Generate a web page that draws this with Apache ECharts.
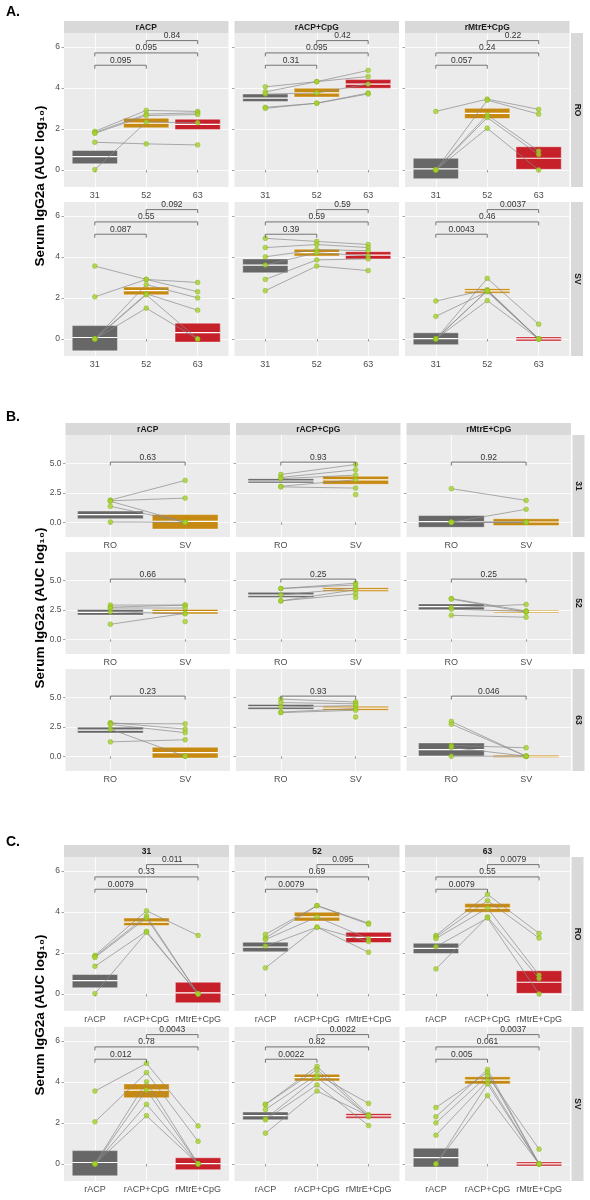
<!DOCTYPE html>
<html><head><meta charset="utf-8">
<script src="https://cdn.jsdelivr.net/npm/echarts@6.0.0/dist/echarts.min.js"></script>
<style>html,body{margin:0;padding:0;background:#fff}#main{width:590px;height:1200px}</style>
</head><body><div id="main"></div>
<script>
// ---------- categories ----------
const routes = ['RO', 'SV'];
const treatments = ['rACP', 'rACP+CpG', 'rMtrE+CpG'];
const days = ['31', '52', '63'];
const yTicksAC = [0, 2, 4, 6];
const yTicksB = [0, 2.5, 5];

// ---------- animal values (rows = animals, columns = day 31, 52, 63) ----------
const RO_rACP      = [[1.88,2.90,2.85],[1.82,2.72,2.78],[1.78,2.65,2.70],[1.35,1.27,1.22],[0.02,2.33,2.30]];
const RO_rACP_CpG  = [[4.05,4.30,4.85],[3.80,4.30,4.55],[3.70,3.75,4.18],[3.05,3.25,3.75],[3.00,3.25,3.70]];
const RO_rMtrE_CpG = [[2.85,3.45,2.95],[0.00,3.40,2.72],[0.00,2.68,0.92],[0.00,2.55,0.75],[0.00,2.03,0.00]];
const SV_rACP      = [[3.55,2.90,2.30],[2.05,2.90,2.75],[0.00,2.65,2.00],[0.00,2.20,1.40],[0.00,2.15,0.00],[0.00,1.50,0.00]];
const SV_rACP_CpG  = [[4.90,4.75,4.60],[4.45,4.60,4.45],[4.00,4.35,4.30],[3.60,4.20,4.05],[2.90,3.85,3.90],[2.35,3.55,3.33]];
const SV_rMtrE_CpG = [[1.85,2.40,0.00],[1.10,2.30,0.00],[0.00,2.95,0.72],[0.00,2.35,0.00],[0.00,1.87,0.00],[0.00,2.35,0.00]];

// ---------- box summaries [low, mid, high] for day 31, 52, 63 ----------
const RO_rACP_box      = [[0.30,0.65,0.95],[2.05,2.28,2.52],[1.97,2.22,2.47]];
const RO_rACP_CpG_box  = [[3.33,3.50,3.70],[3.55,3.75,3.98],[3.98,4.18,4.40]];
const RO_rMtrE_CpG_box = [[-0.43,0.05,0.57],[2.50,2.76,3.00],[0.03,0.57,1.13]];
const SV_rACP_box      = [[-0.58,0.07,0.65],[2.15,2.35,2.53],[-0.15,0.31,0.77]];
const SV_rACP_CpG_box  = [[3.22,3.60,3.90],[4.04,4.20,4.37],[3.90,4.08,4.25]];
const SV_rMtrE_CpG_box = [[-0.28,0.02,0.30],[2.23,2.34,2.45],[-0.10,0.00,0.10]];

// ---------- p-values ----------
// A: per route / treatment: [31 vs 52, 31 vs 63, 52 vs 63]
const pA_RO = [['0.095','0.095','0.84'],['0.31','0.095','0.42'],['0.057','0.24','0.22']];
const pA_SV = [['0.087','0.55','0.092'],['0.39','0.59','0.59'],['0.0043','0.46','0.0037']];
// B: per day / treatment: RO vs SV
const pB = [['0.63','0.93','0.92'],['0.66','0.25','0.25'],['0.23','0.93','0.046']];
// C: per route / day: [rACP vs rACP+CpG, rACP vs rMtrE+CpG, rACP+CpG vs rMtrE+CpG]
const pC_RO = [['0.0079','0.33','0.011'],['0.0079','0.69','0.095'],['0.0079','0.55','0.0079']];
const pC_SV = [['0.012','0.78','0.0043'],['0.0022','0.82','0.0022'],['0.005','0.061','0.0037']];

const subjects = {RO:[RO_rACP,RO_rACP_CpG,RO_rMtrE_CpG], SV:[SV_rACP,SV_rACP_CpG,SV_rMtrE_CpG]};
const boxes = {RO:[RO_rACP_box,RO_rACP_CpG_box,RO_rMtrE_CpG_box], SV:[SV_rACP_box,SV_rACP_CpG_box,SV_rMtrE_CpG_box]};
const pA = {RO:pA_RO, SV:pA_SV};
const pC = {RO:pC_RO, SV:pC_SV};

// ---------- styling / layout ----------
const FONT = '"Liberation Sans", Arial, Helvetica, sans-serif';
const GRAY = '#676767', ORANGE = '#c68a12', RED = '#c6202a';
const PANEL_BG = '#ebebeb', STRIP_BG = '#d9d9d9';
const LAY_A = {cols:[64,234.5,405], w:164.5, rows:[33,202], h:154, stripTop:21, yMin:-0.83, yMax:6.67};
const LAY_B = {cols:[65.5,236,406.5], w:164.5, rows:[435,552,669], h:102, stripTop:423, yMin:-1.25, yMax:7.4};
const LAY_C = {cols:[64,234.5,405], w:165, rows:[857,1027], h:154, stripTop:845, yMin:-0.83, yMax:6.67};
const STRIP_H = 12;

const grids = [], xAxes = [], yAxes = [], series = [], graphics = [];

function addPanel(cfg) {
  const idx = grids.length;
  grids.push({left:cfg.left, top:cfg.top, width:cfg.width, height:cfg.height, show:true,
    backgroundColor:PANEL_BG, borderWidth:0});
  const n = cfg.cats.length;
  const xs = cfg.cats.map((c, i) => i + 1);
  xAxes.push({gridIndex:idx, type:'value', min:0.4, max:n + 0.6,
    axisLine:{show:false},
    axisTick:{show:true, customValues:xs, length:2.5, lineStyle:{color:'#555', width:0.6}},
    axisLabel:{show:true, customValues:xs, formatter:v => cfg.cats[Math.round(v) - 1], fontSize:9,
      color:'#4d4d4d', margin:4, fontFamily:FONT},
    splitLine:{show:true, lineStyle:{color:'#ffffff', width:0.8}}});
  yAxes.push({gridIndex:idx, type:'value', min:cfg.yMin, max:cfg.yMax,
    axisLine:{show:false},
    axisTick:{show:true, customValues:cfg.yTicks, length:2.5, lineStyle:{color:'#666', width:0.6}},
    axisLabel:{show:cfg.showY, customValues:cfg.yTicks, formatter:cfg.yFmt, fontSize:8.5, color:'#4d4d4d',
      margin:4, fontFamily:FONT},
    splitLine:{show:true, lineStyle:{color:'#ffffff', width:0.8}}});
  const colors = cfg.colors;
  series.push({type:'custom', xAxisIndex:idx, yAxisIndex:idx, z:2, silent:true,
    data:cfg.boxes.map((b, i) => [i + 1, b[0], b[1], b[2]]),
    encode:{x:0, y:[1, 2, 3]},
    renderItem:(params, api) => {
      const x = api.value(0);
      const hw = api.size([0.44, 0])[0];
      const pt = api.coord([x, api.value(3)]);
      const pb = api.coord([x, api.value(1)]);
      const pm = api.coord([x, api.value(2)]);
      return {type:'group', children:[
        {type:'rect', shape:{x:pt[0] - hw, y:pt[1], width:2 * hw, height:pb[1] - pt[1]},
          style:{fill:colors[params.dataIndex], stroke:'rgba(255,255,255,0.7)', lineWidth:0.6}},
        {type:'line', shape:{x1:pt[0] - hw, y1:pm[1], x2:pt[0] + hw, y2:pm[1]},
          style:{stroke:'#ffffff', lineWidth:1.2}}
      ]};
    }});
  cfg.lines.forEach(line => {
    series.push({type:'line', xAxisIndex:idx, yAxisIndex:idx, z:3, silent:true,
      data:line.map((v, i) => [i + 1, v]), symbol:'none',
      lineStyle:{color:'#8a8a8a', width:0.7}});
  });
  series.push({type:'scatter', xAxisIndex:idx, yAxisIndex:idx, z:4, silent:true,
    data:cfg.points, symbolSize:4.8,
    itemStyle:{color:'#a6d22e', borderColor:'#86b21a', borderWidth:0.6}});
  const br = cfg.brackets;
  series.push({type:'custom', xAxisIndex:idx, yAxisIndex:idx, z:5, silent:true,
    data:br.map(b => [b[0], b[2]]),
    renderItem:(params, api) => {
      const b = br[params.dataIndex];
      const p1 = api.coord([b[0], b[2]]);
      const p2 = api.coord([b[1], b[2]]);
      return {type:'group', children:[
        {type:'polyline', shape:{points:[[p1[0], p1[1] + 3.5], [p1[0], p1[1]], [p2[0], p2[1]], [p2[0], p2[1] + 3.5]]},
          style:{stroke:'#555555', lineWidth:0.8, fill:null}},
        {type:'text', x:(p1[0] + p2[0]) / 2, y:p1[1] - 0.3,
          style:{text:b[3], fontSize:8.5, fill:'#333333', align:'center', verticalAlign:'bottom', fontFamily:FONT}}
      ]};
    }});
}

function topStrip(x, y, w, label) {
  graphics.push({type:'rect', shape:{x:x, y:y, width:w, height:STRIP_H}, style:{fill:STRIP_BG}, silent:true});
  graphics.push({type:'text', x:x + w / 2, y:y + STRIP_H / 2 + 0.5,
    style:{text:label, fontSize:8.5, fontWeight:'bold', fill:'#1a1a1a', align:'center', verticalAlign:'middle', fontFamily:FONT}});
}
function rightStrip(x, y, h, label) {
  graphics.push({type:'rect', shape:{x:x, y:y, width:STRIP_H, height:h}, style:{fill:STRIP_BG}, silent:true});
  graphics.push({type:'text', x:x + STRIP_H / 2, y:y + h / 2, rotation:-Math.PI / 2,
    style:{text:label, fontSize:8.5, fontWeight:'bold', fill:'#1a1a1a', align:'center', verticalAlign:'middle', fontFamily:FONT}});
}
function sectionLabel(y, label) {
  graphics.push({type:'text', x:6, y:y,
    style:{text:label, fontSize:14, fontWeight:'bold', fill:'#000', align:'left', verticalAlign:'middle', fontFamily:FONT}});
}
function yTitle(y) {
  graphics.push({type:'text', x:40, y:y, rotation:Math.PI / 2,
    style:{text:'Serum IgG2a (AUC log\u2081\u2080)', fontSize:13.5, fontWeight:'bold', fill:'#000',
      align:'center', verticalAlign:'middle', fontFamily:FONT}});
}

const fmtInt = v => String(Math.round(v));
const fmt1 = v => v.toFixed(1);

// ---------- Section A: rows = route, cols = treatment, x = day ----------
routes.forEach((r, ri) => treatments.forEach((t, ti) => {
  const subs = subjects[r][ti];
  addPanel({left:LAY_A.cols[ti], top:LAY_A.rows[ri], width:LAY_A.w, height:LAY_A.h, showY:ti === 0,
    cats:days, yMin:LAY_A.yMin, yMax:LAY_A.yMax, yTicks:yTicksAC, yFmt:fmtInt,
    boxes:boxes[r][ti], colors:[GRAY, ORANGE, RED],
    lines:subs, points:subs.flatMap(s => s.map((v, i) => [i + 1, v])),
    brackets:[[1, 2, 5.1, pA[r][ti][0]], [1, 3, 5.7, pA[r][ti][1]], [2, 3, 6.3, pA[r][ti][2]]]});
}));
treatments.forEach((t, ti) => topStrip(LAY_A.cols[ti], LAY_A.stripTop, LAY_A.w, t));
routes.forEach((r, ri) => rightStrip(LAY_A.cols[2] + LAY_A.w + 1.5, LAY_A.rows[ri], LAY_A.h, r));

// ---------- Section B: rows = day, cols = treatment, x = route ----------
days.forEach((d, di) => treatments.forEach((t, ti) => {
  const ro = subjects.RO[ti].map(s => s[di]);
  const sv = subjects.SV[ti].map(s => s[di]);
  const lines = [];
  for (let i = 0; i < Math.min(ro.length, sv.length); i++) lines.push([ro[i], sv[i]]);
  addPanel({left:LAY_B.cols[ti], top:LAY_B.rows[di], width:LAY_B.w, height:LAY_B.h, showY:ti === 0,
    cats:routes, yMin:LAY_B.yMin, yMax:LAY_B.yMax, yTicks:yTicksB, yFmt:fmt1,
    boxes:[boxes.RO[ti][di], boxes.SV[ti][di]], colors:[GRAY, ORANGE],
    lines:lines, points:ro.map(v => [1, v]).concat(sv.map(v => [2, v])),
    brackets:[[1, 2, 5.1, pB[di][ti]]]});
}));
treatments.forEach((t, ti) => topStrip(LAY_B.cols[ti], LAY_B.stripTop, LAY_B.w, t));
days.forEach((d, di) => rightStrip(LAY_B.cols[2] + LAY_B.w + 1.5, LAY_B.rows[di], LAY_B.h, d));

// ---------- Section C: rows = route, cols = day, x = treatment ----------
routes.forEach((r, ri) => days.forEach((d, di) => {
  const cols = treatments.map((t, ti) => subjects[r][ti].map(s => s[di]));
  const n = Math.min(...cols.map(c => c.length));
  const lines = [];
  for (let i = 0; i < n; i++) lines.push([cols[0][i], cols[1][i], cols[2][i]]);
  addPanel({left:LAY_C.cols[di], top:LAY_C.rows[ri], width:LAY_C.w, height:LAY_C.h, showY:di === 0,
    cats:treatments, yMin:LAY_C.yMin, yMax:LAY_C.yMax, yTicks:yTicksAC, yFmt:fmtInt,
    boxes:treatments.map((t, ti) => boxes[r][ti][di]), colors:[GRAY, ORANGE, RED],
    lines:lines, points:cols.flatMap((c, ti) => c.map(v => [ti + 1, v])),
    brackets:[[1, 2, 5.1, pC[r][di][0]], [1, 3, 5.7, pC[r][di][1]], [2, 3, 6.3, pC[r][di][2]]]});
}));
days.forEach((d, di) => topStrip(LAY_C.cols[di], LAY_C.stripTop, LAY_C.w, d));
routes.forEach((r, ri) => rightStrip(LAY_C.cols[2] + LAY_C.w + 1.5, LAY_C.rows[ri], LAY_C.h, r));

sectionLabel(12, 'A.');
sectionLabel(417, 'B.');
sectionLabel(842, 'C.');
yTitle(186);
yTitle(608);
yTitle(1015);

const chart = echarts.init(document.getElementById('main'), null, {renderer:'canvas'});
chart.setOption({
  animation:false,
  backgroundColor:'#ffffff',
  grid:grids, xAxis:xAxes, yAxis:yAxes, series:series, graphic:graphics
});
</script></body></html>
